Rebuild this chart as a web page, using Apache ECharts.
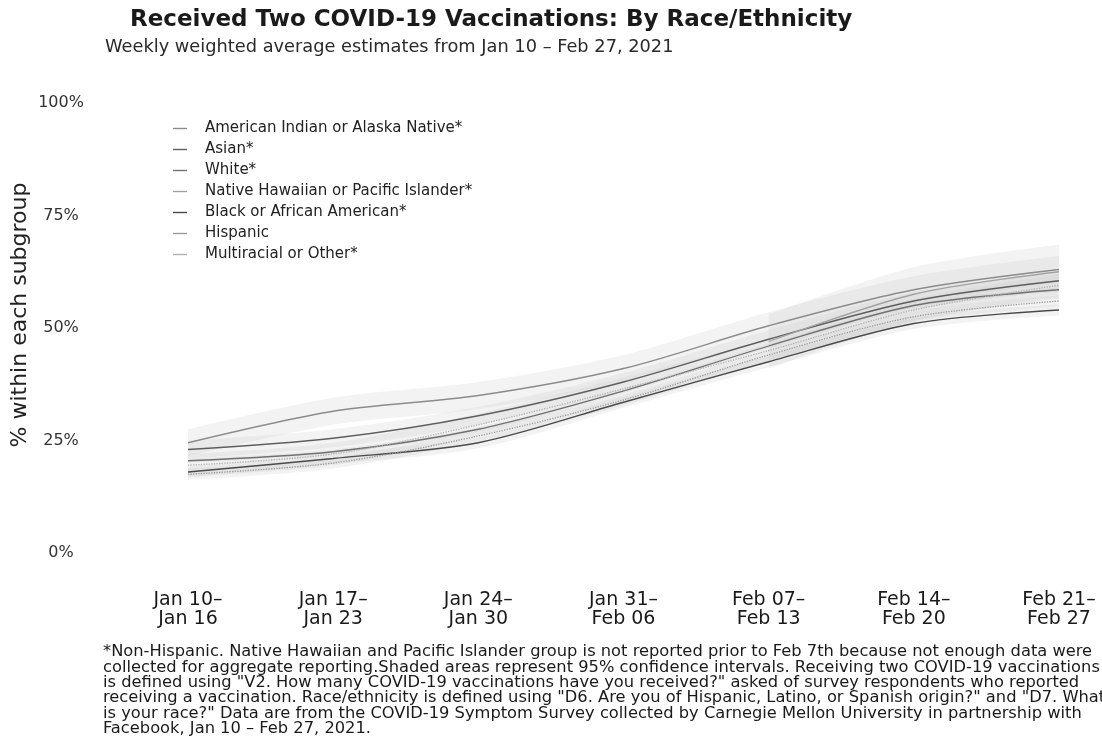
<!DOCTYPE html>
<html>
<head>
<meta charset="utf-8">
<script src="https://cdn.jsdelivr.net/npm/echarts@6/dist/echarts.min.js"></script>
<style>html,body{margin:0;padding:0;background:#fff;}#c{width:1102px;height:755px;}</style>
</head>
<body>
<div id="c"></div>
<script>
// ---- data (percent, weekly weighted estimates) ----
const weekStart = ['Jan 10–', 'Jan 17–', 'Jan 24–', 'Jan 31–', 'Feb 07–', 'Feb 14–', 'Feb 21–'];
const weekEnd   = ['Jan 16', 'Jan 23', 'Jan 30', 'Feb 06', 'Feb 13', 'Feb 20', 'Feb 27'];
const yTicks = [0, 25, 50, 75, 100];

const groupNames = ['American Indian or Alaska Native*', 'Asian*', 'White*', 'Native Hawaiian or Pacific Islander*', 'Black or African American*', 'Hispanic', 'Multiracial or Other*'];

const aianEst   = [24.5, 31.5, 35.0, 41.0, 50.5, 58.5, 63.0];
const aianLow   = [21.5, 28.5, 32.0, 38.0, 47.5, 55.5, 60.0];
const aianHigh  = [27.5, 34.5, 38.0, 44.0, 53.5, 61.5, 66.0];

const asianEst  = [23.0, 25.5, 30.5, 38.0, 47.5, 56.0, 60.5];
const asianLow  = [21.0, 23.5, 28.5, 36.0, 45.5, 54.0, 58.5];
const asianHigh = [25.0, 27.5, 32.5, 40.0, 49.5, 58.0, 62.5];

const whiteEst  = [20.5, 22.5, 27.5, 36.0, 46.0, 55.0, 58.5];
const whiteLow  = [20.0, 22.0, 27.0, 35.5, 45.5, 54.5, 58.0];
const whiteHigh = [21.0, 23.0, 28.0, 36.5, 46.5, 55.5, 59.0];

const nhpiEst   = [null, null, null, null, 47.0, 57.5, 62.5];
const nhpiLow   = [null, null, null, null, 41.0, 51.5, 56.5];
const nhpiHigh  = [null, null, null, null, 53.0, 63.5, 68.5];

const blackEst  = [18.0, 21.0, 24.5, 33.5, 42.5, 51.0, 54.0];
const blackLow  = [16.8, 19.8, 23.3, 32.3, 41.3, 49.8, 52.8];
const blackHigh = [19.2, 22.2, 25.7, 34.7, 43.7, 52.2, 55.2];

const hispEst   = [17.5, 20.0, 26.0, 34.0, 44.0, 52.5, 56.0];
const hispLow   = [16.3, 18.8, 24.8, 32.8, 42.8, 51.3, 54.8];
const hispHigh  = [18.7, 21.2, 27.2, 35.2, 45.2, 53.7, 57.2];

const multiEst  = [19.5, 22.0, 28.5, 36.5, 45.0, 54.0, 59.5];
const multiLow  = [17.0, 19.5, 26.0, 34.0, 42.5, 51.5, 57.0];
const multiHigh = [22.0, 24.5, 31.0, 39.0, 47.5, 56.5, 62.0];

const footnote = [
  '*Non-Hispanic. Native Hawaiian and Pacific Islander group is not reported prior to Feb 7th because not enough data were',
  'collected for aggregate reporting.Shaded areas represent 95% confidence intervals. Receiving two COVID-19 vaccinations',
  'is defined using "V2. How many COVID-19 vaccinations have you received?" asked of survey respondents who reported',
  'receiving a vaccination. Race/ethnicity is defined using "D6. Are you of Hispanic, Latino, or Spanish origin?" and "D7. What',
  'is your race?" Data are from the COVID-19 Symptom Survey collected by Carnegie Mellon University in partnership with',
  'Facebook, Jan 10 – Feb 27, 2021.'
];

// ---- build ----
const groups = [
  {est: aianEst, low: aianLow, high: aianHigh, color: '#8c8c8c', type: 'solid'},
  {est: asianEst, low: asianLow, high: asianHigh, color: '#5e5e5e', type: 'solid'},
  {est: whiteEst, low: whiteLow, high: whiteHigh, color: '#707070', type: 'solid'},
  {est: nhpiEst, low: nhpiLow, high: nhpiHigh, color: '#a2a2a2', type: 'solid'},
  {est: blackEst, low: blackLow, high: blackHigh, color: '#4a4a4a', type: 'solid'},
  {est: hispEst, low: hispLow, high: hispHigh, color: '#9a9a9a', type: 'dotted'},
  {est: multiEst, low: multiLow, high: multiHigh, color: '#b0b0b0', type: 'dotted'}
];
const categories = weekStart.map((s, i) => s + '\n' + weekEnd[i]);
const FONT = "'DejaVu Sans', sans-serif";

const series = [];
groups.forEach((g, gi) => {
  const stackId = 'ci' + gi;
  series.push({
    name: 'ciLow' + gi, type: 'line', stack: stackId, data: g.low,
    symbol: 'none', lineStyle: {opacity: 0}, silent: true, smooth: 0.3, z: 1
  });
  series.push({
    name: 'ciBand' + gi, type: 'line', stack: stackId,
    data: g.high.map((v, i) => (v == null || g.low[i] == null) ? null : +(v - g.low[i]).toFixed(2)),
    symbol: 'none', lineStyle: {opacity: 0}, silent: true, smooth: 0.3, z: 1,
    areaStyle: {color: '#c8c8c8', opacity: 0.22}
  });
});
groups.forEach((g, gi) => {
  series.push({
    name: groupNames[gi], type: 'line', data: g.est, symbol: 'none', smooth: 0.3, z: 3,
    color: g.color,
    lineStyle: {color: g.color, width: 1.3, type: g.type}
  });
});

const chart = echarts.init(document.getElementById('c'), null, {renderer: 'canvas'});
chart.setOption({
  animation: false,
  backgroundColor: '#ffffff',
  textStyle: {fontFamily: FONT},
  graphic: [
    {type: 'text', left: 130, top: 9,
     style: {text: 'Received Two COVID-19 Vaccinations: By Race/Ethnicity', font: "bold 23px 'DejaVu Sans', sans-serif", fill: '#1a1a1a'}},
    {type: 'text', left: 105, top: 38,
     style: {text: 'Weekly weighted average estimates from Jan 10 – Feb 27, 2021', font: "17.8px 'DejaVu Sans', sans-serif", fill: '#2a2a2a'}},
    {type: 'text', x: 20, y: 315, rotation: Math.PI / 2,
     style: {text: '% within each subgroup', font: "22px 'DejaVu Sans', sans-serif", fill: '#222', textAlign: 'center', textVerticalAlign: 'middle'}},
    {type: 'text', left: 103, top: 644,
     style: {text: footnote.join('\n'), font: "16.3px 'DejaVu Sans', sans-serif", fill: '#1a1a1a', lineHeight: 15.4}}
  ],
  legend: {
    data: groupNames,
    orient: 'vertical', left: 168, top: 116,
    icon: 'path://M0,0 L16,0 L16,1.6 L0,1.6 Z',
    itemWidth: 14, itemHeight: 2, itemGap: 6,
    textStyle: {fontFamily: FONT, fontSize: 15, color: '#222', lineHeight: 14, padding: [0, 0, 0, 13]}
  },
  grid: {left: 188, right: 43, top: 103, bottom: 202, containLabel: false},
  xAxis: {
    type: 'category', data: categories, boundaryGap: false,
    axisLine: {show: false}, axisTick: {show: false}, splitLine: {show: false},
    axisLabel: {fontFamily: FONT, fontSize: 19, color: '#1a1a1a', margin: 38, lineHeight: 19, interval: 0}
  },
  yAxis: {
    type: 'value', min: yTicks[0], max: yTicks[yTicks.length - 1], interval: 25,
    axisLine: {show: false}, axisTick: {show: false}, splitLine: {show: false},
    axisLabel: {formatter: '{value}%', fontFamily: FONT, fontSize: 16, color: '#333', margin: 127, align: 'center'}
  },
  series: series
});
</script>
</body>
</html>
